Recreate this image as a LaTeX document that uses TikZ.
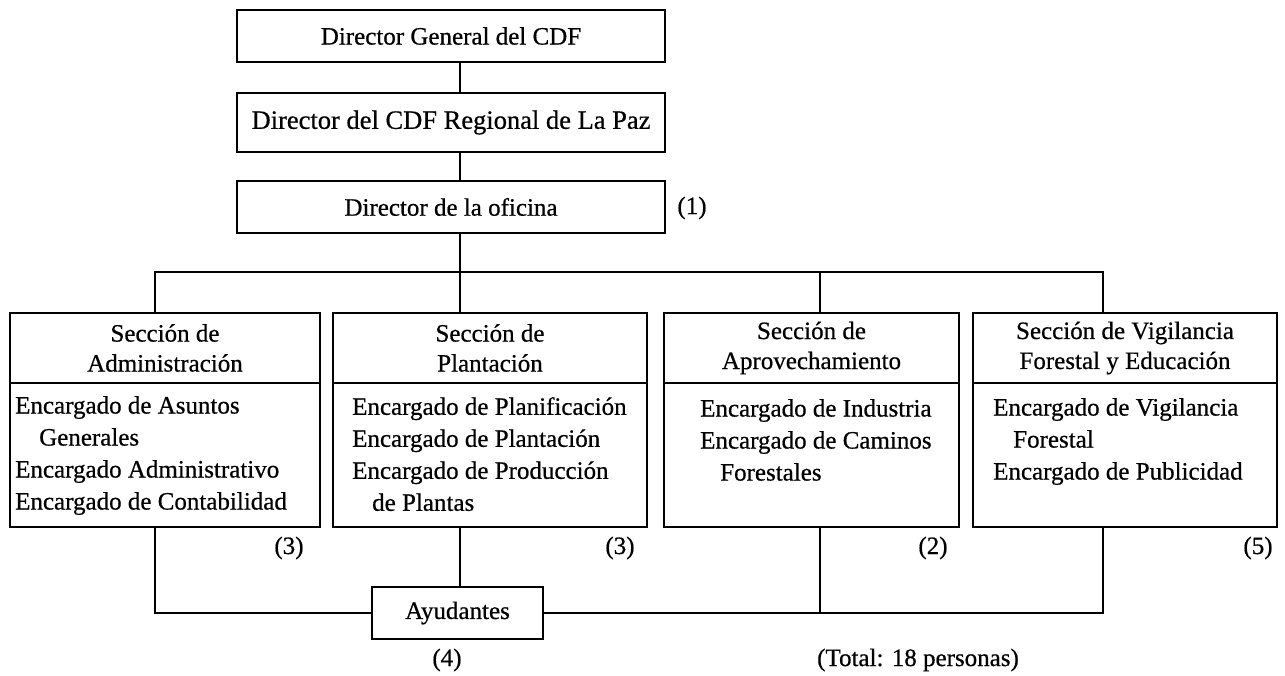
\documentclass[tikz,border=0pt]{standalone}
\usepackage{fontspec}
\setmainfont{Liberation Serif}[FakeBold=0.6]
\begin{document}
\begin{tikzpicture}[x=1pt,y=-1pt]
\tikzset{
 box/.style={draw, line width=2.8pt, inner sep=0pt, font=\fontsize{25}{30}\selectfont, align=center},
 lbl/.style={inner sep=0pt, font=\fontsize{25}{30}\selectfont},
 bodytext/.style={inner sep=0pt, font=\fontsize{25}{32}\selectfont, align=left, anchor=north west},
 conn/.style={line width=2.8pt, line join=miter},
}
\fill[white] (0,0) rectangle (1285,676);
\useasboundingbox (0,0) rectangle (1285,676);
% helper coordinates
\coordinate (spine) at (460,0);
\coordinate (dA) at (155,272);
\coordinate (dC) at (820,272);
\coordinate (dD) at (1103,272);
\coordinate (eA) at (155,613);
\coordinate (eC) at (820,613);
\coordinate (eD) at (1103,613);
% top chain
\node[box, minimum width=428pt, minimum height=52pt] (b1) at (451,36) {Director General del CDF};
\node[box, minimum width=428pt, minimum height=59pt, font=\fontsize{26.5}{30}\selectfont] (b2) at (451,122.5) {Director del CDF Regional de La Paz};
\node[box, minimum width=428pt, minimum height=52pt] (b3) at (451,207) {Director de la oficina};
\node[lbl] (l1) at (692,208) {(1)};
% sections
\node[box, minimum width=310pt, minimum height=70pt] (hA) at (165,348) {Sección de\\Administración};
\node[box, minimum width=310pt, minimum height=144pt] (bA) at (165,455) {};
\node[box, minimum width=314pt, minimum height=70pt] (hB) at (490,348) {Sección de\\Plantación};
\node[box, minimum width=314pt, minimum height=144pt] (bB) at (490,455) {};
\node[box, minimum width=295pt, minimum height=70pt] (hC) at (811.5,348) {Sección de\\Aprovechamiento};
\node[box, minimum width=295pt, minimum height=144pt] (bC) at (811.5,455) {};
\node[box, minimum width=304pt, minimum height=70pt] (hD) at (1125,348) {Sección de Vigilancia\\Forestal y Educación};
\node[box, minimum width=304pt, minimum height=144pt] (bD) at (1125,455) {};
% body texts
\node[bodytext] (tA) at (15,396) {Encargado de Asuntos\\\hspace*{24pt}Generales\\Encargado Administrativo\\Encargado de Contabilidad};
\node[bodytext] (tB) at (352,397) {Encargado de Planificación\\Encargado de Plantación\\Encargado de Producción\\\hspace*{20pt}de Plantas};
\node[bodytext] (tC) at (700,399) {Encargado de Industria\\Encargado de Caminos\\\hspace*{20pt}Forestales};
\node[bodytext] (tD) at (993,398) {Encargado de Vigilancia\\\hspace*{20pt}Forestal\\Encargado de Publicidad};
% counts
\node[lbl] (l3a) at (289,548) {(3)};
\node[lbl] (l3b) at (620,548) {(3)};
\node[lbl] (l2) at (933,548) {(2)};
\node[lbl] (l5) at (1258,548) {(5)};
% helpers
\node[box, minimum width=171pt, minimum height=52pt] (ay) at (457.5,613) {Ayudantes};
\node[lbl] (l4) at (447,660) {(4)};
\node[lbl] (tot) at (918,660) {(Total: 18 personas)};
% connectors
\draw[conn] (b1.south -| spine) -- (b2.north -| spine);
\draw[conn] (b2.south -| spine) -- (b3.north -| spine);
\draw[conn] (b3.south -| spine) -- (hB.north -| spine);
\draw[conn] (hA.north -| dA) -- (dA) -- (dD) -- (hD.north -| dD);
\draw[conn] (dC) -- (hC.north -| dC);
\draw[conn] (bA.south -| eA) |- (ay.west);
\draw[conn] (bB.south -| spine) -- (ay.north -| spine);
\draw[conn] (ay.east) -| (bD.south -| eD);
\draw[conn] (bC.south -| eC) -- (eC);
\end{tikzpicture}
\end{document}
